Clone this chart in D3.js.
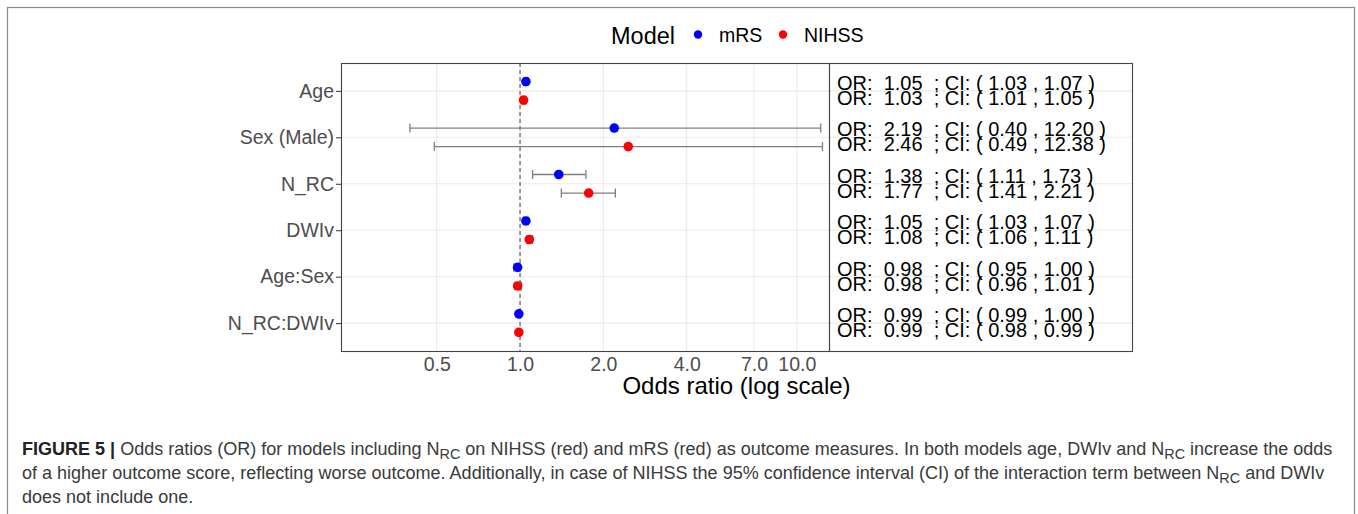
<!DOCTYPE html>
<html>
<head>
<meta charset="utf-8">
<script src="https://cdn.jsdelivr.net/npm/d3@7"></script>
<style>
  body { margin: 0; background: #fff; }
  svg { display: block; font-family: "Liberation Sans", Arial, Helvetica, sans-serif; }
</style>
</head>
<body>
<svg id="chart"></svg>
<script>
// model terms, top to bottom
const terms = ["Age", "Sex (Male)", "N_RC", "DWIv", "Age:Sex", "N_RC:DWIv"];
const models = ["mRS", "NIHSS"];
const modelColors = ["#0000FF", "#FF0000"];

// odds ratios and 95% CI
const orMRS   = [1.05, 2.19, 1.38, 1.05, 0.98, 0.99];
const loMRS   = [1.03, 0.40, 1.11, 1.03, 0.95, 0.99];
const hiMRS   = [1.07, 12.20, 1.73, 1.07, 1.00, 1.00];
const orNIHSS = [1.03, 2.46, 1.77, 1.08, 0.98, 0.99];
const loNIHSS = [1.01, 0.49, 1.41, 1.06, 0.96, 0.98];
const hiNIHSS = [1.05, 12.38, 2.21, 1.11, 1.01, 0.99];

const xTicks = [0.5, 1, 2, 4, 7, 10];
const xTickLabels = ["0.5", "1.0", "2.0", "4.0", "7.0", "10.0"];

const width = 1358, height = 514;
const panel = {left: 341, right: 829, top: 63, bottom: 351};
const textPanel = {left: 829, right: 1132};

const svg = d3.select("#chart")
    .attr("width", width)
    .attr("height", height)
    .attr("viewBox", [0, 0, width, height]);

// figure frame
svg.append("rect")
    .attr("x", 7.5).attr("y", 7.5)
    .attr("width", 1347).attr("height", 540)
    .attr("fill", "none")
    .attr("stroke", "#8a8a8a")
    .attr("stroke-width", 1.2);

const fmt = d3.format(".2f");
let rows = [];
terms.forEach((t, i) => {
    rows.push({term: t, model: 0, or: orMRS[i], lo: loMRS[i], hi: hiMRS[i]});
    rows.push({term: t, model: 1, or: orNIHSS[i], lo: loNIHSS[i], hi: hiNIHSS[i]});
});

let x = d3.scaleLog()
    .domain([0.2255, 13.07])
    .range([panel.left, panel.right]);

let y = d3.scalePoint()
    .domain(terms)
    .range([panel.top, panel.bottom])
    .padding(0.6);

const dodge = m => (m === 0 ? -1 : 1) * y.step() * 0.2;

// grid
const grid = svg.append("g").attr("stroke", "#EBEBEB").attr("stroke-width", 1.1);
grid.selectAll(".gx")
  .data(xTicks)
  .join("line")
    .attr("x1", d => x(d)).attr("x2", d => x(d))
    .attr("y1", panel.top).attr("y2", panel.bottom);
grid.selectAll(".gy")
  .data(terms)
  .join("line")
    .attr("x1", panel.left).attr("x2", textPanel.right)
    .attr("y1", d => y(d)).attr("y2", d => y(d));

// reference line at OR = 1
svg.append("line")
    .attr("x1", x(1)).attr("x2", x(1))
    .attr("y1", panel.top).attr("y2", panel.bottom)
    .attr("stroke", "#444")
    .attr("stroke-width", 1)
    .attr("stroke-dasharray", "4,3");

// error bars
const eb = svg.append("g")
    .attr("stroke", "#7f7f7f")
    .attr("stroke-width", 1.3)
    .selectAll("g")
    .data(rows)
    .join("g")
    .attr("transform", d => `translate(0,${y(d.term) + dodge(d.model)})`);
eb.append("line")
    .attr("x1", d => x(d.lo)).attr("x2", d => x(d.hi));
eb.append("line")
    .attr("x1", d => x(d.lo)).attr("x2", d => x(d.lo))
    .attr("y1", -4.5).attr("y2", 4.5);
eb.append("line")
    .attr("x1", d => x(d.hi)).attr("x2", d => x(d.hi))
    .attr("y1", -4.5).attr("y2", 4.5);

// points
svg.append("g")
  .selectAll("circle")
  .data(rows)
  .join("circle")
    .attr("cx", d => x(d.or))
    .attr("cy", d => y(d.term) + dodge(d.model))
    .attr("r", 4.8)
    .attr("fill", d => modelColors[d.model]);

// OR / CI text panel (two spaces kept as non-breaking, like R's paste output)
const nb = "\u00A0";
const lab = d => `OR:${nb} ${fmt(d.or)}${nb} ; CI: ( ${fmt(d.lo)} , ${fmt(d.hi)} )`;
svg.append("g")
    .attr("font-size", 20)
    .attr("fill", "#000")
  .selectAll("text")
  .data(rows)
  .join("text")
    .attr("x", 837)
    .attr("y", d => y(d.term) + (d.model === 0 ? -1 : 14))
    .text(lab);

// panel borders
svg.append("rect")
    .attr("x", panel.left + 0.5).attr("y", panel.top + 0.5)
    .attr("width", panel.right - panel.left).attr("height", panel.bottom - panel.top)
    .attr("fill", "none").attr("stroke", "#444").attr("stroke-width", 1.1);
svg.append("rect")
    .attr("x", textPanel.left + 0.5).attr("y", panel.top + 0.5)
    .attr("width", textPanel.right - textPanel.left).attr("height", panel.bottom - panel.top)
    .attr("fill", "none").attr("stroke", "#444").attr("stroke-width", 1.1);

// axes
const yAxis = g => g
    .attr("transform", `translate(${panel.left},0)`)
    .call(d3.axisLeft(y).tickSize(5).tickPadding(2))
    .call(g => g.select(".domain").remove())
    .call(g => g.selectAll(".tick line").attr("stroke", "#333"))
    .call(g => g.selectAll(".tick text")
        .attr("font-size", 19.5).attr("fill", "#4D4D4D"));

const xAxis = g => g
    .attr("transform", `translate(0,${panel.bottom})`)
    .call(d3.axisBottom(x).tickValues(xTicks).tickSize(0).tickPadding(6)
        .tickFormat((d, i) => xTickLabels[i]))
    .call(g => g.select(".domain").remove())
    .call(g => g.selectAll(".tick text")
        .attr("font-size", 19.5).attr("fill", "#4D4D4D"));

svg.append("g").call(yAxis).attr("font-family", null);
svg.append("g").call(xAxis).attr("font-family", null);

svg.append("text")
    .attr("x", (panel.left + textPanel.right) / 2)
    .attr("y", 394)
    .attr("text-anchor", "middle")
    .attr("font-size", 24)
    .text("Odds ratio (log scale)");

// legend
const legend = svg.append("g");
legend.append("text")
    .attr("x", 611).attr("y", 43.5)
    .attr("font-size", 23.5)
    .text("Model");
const legX = [698, 783];
legend.selectAll("circle")
  .data(models)
  .join("circle")
    .attr("cx", (d, i) => legX[i]).attr("cy", 34.5)
    .attr("r", 4.2)
    .attr("fill", (d, i) => modelColors[i]);
legend.selectAll(".lab")
  .data(models)
  .join("text")
    .attr("x", (d, i) => legX[i] + 21).attr("y", 41.5)
    .attr("font-size", 19.5)
    .text(d => d);

// caption
const capLines = [
  [["b", "FIGURE 5 | "], ["", "Odds ratios (OR) for models including N"], ["s", "RC"], ["", " on NIHSS (red) and mRS (red) as outcome measures. In both models age, DWIv and N"], ["s", "RC"], ["", " increase the odds"]],
  [["", "of a higher outcome score, reflecting worse outcome. Additionally, in case of NIHSS the 95% confidence interval (CI) of the interaction term between N"], ["s", "RC"], ["", " and DWIv"]],
  [["", "does not include one."]]
];
const capBase = [455, 479, 503];
const capSize = 16;
const cap = svg.append("g").attr("fill", "#3a3a3a").attr("font-size", capSize);
const capTexts = capLines.map((parts, i) => {
    const t = cap.append("text").attr("x", 22).attr("y", capBase[i]);
    let sub = false;
    parts.forEach(([kind, s]) => {
        const sp = t.append("tspan").text(s);
        if (kind === "b") sp.attr("font-weight", "bold").attr("fill", "#222");
        if (kind === "s") { sp.attr("class", "sub").attr("font-size", capSize * 0.8).attr("dy", 4); sub = true; }
        else if (sub) { sp.attr("dy", -4); sub = false; }
    });
    return t;
});
// fit first line to the frame width
const w0 = capTexts[0].node().getComputedTextLength();
const k = 1311 / w0;
cap.attr("font-size", capSize * k);
cap.selectAll("tspan.sub").attr("font-size", capSize * k * 0.8);
</script>
</body>
</html>
